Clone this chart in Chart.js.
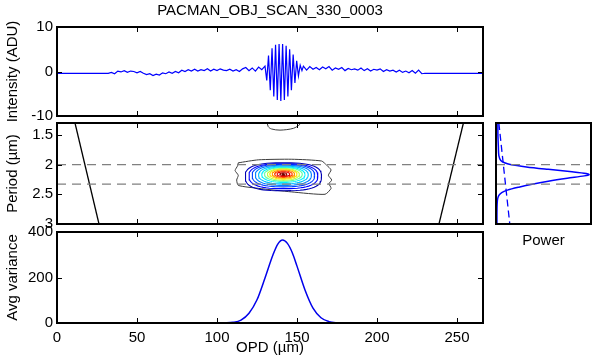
<!DOCTYPE html>
<html>
<head>
<meta charset="utf-8">
<script src="https://cdn.jsdelivr.net/npm/chart.js@4.4.0/dist/chart.umd.min.js"></script>
<style>
body { margin: 0; background: #fff; }
#wrap { position: relative; width: 600px; height: 363px; overflow: hidden; background: #fff; }
canvas { position: absolute; left: 0; top: 0; }
</style>
</head>
<body>
<div id="wrap">
<canvas id="intensity_chart" width="600" height="363"></canvas>
<canvas id="period_chart" width="600" height="363"></canvas>
<canvas id="variance_chart" width="600" height="363"></canvas>
<canvas id="power_chart" width="600" height="363"></canvas>
</div>
<script>
// ---- data ----
const opd_ticks = [0, 50, 100, 150, 200, 250];
const intensity_ticks = [-10, 0, 10];
const period_ticks = [1.5, 2, 2.5, 3];
const variance_ticks = [0, 200, 400];

// interferogram (OPD in um, intensity in ADU)
const intensity_opd = [0, 32, 34, 36, 38, 40, 42, 44, 46, 48, 50, 52, 54, 56, 58, 60, 62, 64, 66, 68,
    70, 72, 74, 76, 78, 80, 82, 84, 86, 88, 90, 92, 94, 96, 98, 100, 102, 104, 106, 108,
    110, 112, 114, 116, 118, 120, 122, 124, 126, 128,
    130.0, 131.1, 132.2, 133.3, 134.4, 135.5, 136.6, 137.7, 138.8, 139.9, 141.0,
    142.1, 143.2, 144.3, 145.4, 146.5, 147.6, 148.7, 149.8, 150.9, 152.0, 153.1,
    154, 156, 158, 160, 162, 164, 166, 168, 170, 172, 174, 176, 178, 180, 182, 184, 186, 188,
    190, 192, 194, 196, 198, 200, 202, 204, 206, 208, 210, 212, 214, 216, 218, 220, 222, 224,
    226, 228, 230, 266];
const intensity = [-0.4, -0.4, -0.2, -0.5, 0.1, -0.1, 0.2, -0.2, 0.1, 0.0, -0.3, 0.0, -0.4, -0.7, -0.5, -0.9, -0.6, -0.8, -0.3, -0.5,
    -0.1, -0.4, 0.0, -0.3, 0.3, 0.0, 0.4, 0.1, 0.5, 0.1, 0.4, 0.2, 0.6, 0.1, 0.5, 0.2, 0.6, 0.3, 0.2, 0.5,
    0.1, 0.4, 0.0, 0.6, 0.9, 0.2, 0.8, 0.1, 1.0, 0.4,
    1.2, -2.0, 3.6, -4.2, 5.2, -5.6, 6.0, -6.4, 6.2, -6.6, 6.2,
    -6.4, 5.8, -5.6, 5.0, -4.2, 3.8, -2.6, 2.4, -1.0, 1.4, 0.2,
    1.2, 0.3, 1.1, 0.5, 0.9, 0.4, 1.0, 0.6, 1.1, 0.3, 0.8, 0.5, 0.9, 0.2, 0.7, 0.4, 0.6, 0.3,
    0.8, 0.2, 0.6, 0.1, 0.5, 0.3, 0.6, 0.0, 0.4, 0.1, 0.3, -0.1, 0.3, -0.2, 0.1, -0.3, 0.2, -0.4,
    0.3, -0.5, -0.4, -0.4];

// average variance against OPD
const variance_opd = [0, 100, 105, 110, 115, 120, 125, 130, 135, 138, 141, 144, 147, 150, 155, 160, 165, 170, 175, 180, 266];
const variance = [0, 0, 0.5, 3, 13, 43, 102, 198, 300, 347, 365, 350, 310, 250, 145, 65, 23, 6, 1, 0, 0];

// power spectrum (period in um, normalised power)
const power_period = [1.30, 1.50, 1.70, 1.85, 1.93, 1.97, 2.00, 2.04, 2.08, 2.12, 2.15, 2.17, 2.19, 2.23, 2.28, 2.33, 2.38, 2.43, 2.47, 2.52, 2.60, 2.80, 3.00];
const power = [0.02, 0.02, 0.025, 0.03, 0.05, 0.09, 0.15, 0.32, 0.55, 0.80, 0.95, 0.98, 0.93, 0.75, 0.55, 0.38, 0.24, 0.12, 0.06, 0.03, 0.015, 0.01, 0.01];
const power_ref_period = [1.3, 3.0];
const power_ref = [0.03, 0.145];

// marked periods (dashed lines)
const band_periods = [2.0, 2.33];

// OPD limits (solid black lines) at the top and bottom of the period axis
const limit_period = [1.3, 3.0];
const limit_left_opd = [11.25, 26.25];
const limit_right_opd = [254, 238.75];

// contours: outer grey level traced, inner levels as rings
const outer_contour_opd = [113.3, 125.8, 146.7, 165.4, 168.5, 171.3, 169.6, 171.7, 170.0, 171.3, 167.5, 146.7, 125.8, 113.3, 112.3, 113.3, 111.3, 112.9, 113.3];
const outer_contour_period = [1.97, 1.92, 1.91, 1.94, 2.01, 2.09, 2.18, 2.26, 2.32, 2.40, 2.50, 2.46, 2.40, 2.35, 2.26, 2.18, 2.10, 2.02, 1.97];
const top_contour_opd = [131, 132, 134, 139.4, 147.7, 151.9, 153];
const top_contour_period = [1.26, 1.36, 1.40, 1.42, 1.39, 1.32, 1.25];

const ring_colors = ["rgb(0,0,180)", "rgb(0,0,255)", "rgb(0,64,255)", "rgb(0,128,255)", "rgb(0,192,255)", "rgb(0,240,255)",
    "rgb(96,255,160)", "rgb(192,255,64)", "rgb(255,224,0)", "rgb(255,150,0)", "rgb(255,64,0)", "rgb(230,0,0)", "rgb(160,0,0)", "rgb(90,0,0)"];
const ring_half_opd = [23.8, 21.5, 19.5, 17.5, 15.5, 13.5, 11.8, 10.0, 8.5, 7.0, 5.5, 4.0, 2.2, 0.6];
const ring_half_period = [0.235, 0.21, 0.19, 0.17, 0.15, 0.13, 0.115, 0.10, 0.085, 0.07, 0.055, 0.04, 0.022, 0.01];
const ring_center_period = [2.205, 2.195, 2.185, 2.18, 2.175, 2.17, 2.165, 2.165, 2.16, 2.16, 2.16, 2.16, 2.16, 2.16];
const ring_squareness = [2.8, 2.6, 2.5, 2.4, 2.3, 2.2, 2.1, 2.0, 2.0, 2.0, 2.0, 2.0, 2.0, 2.0];
const ring_center_opd = 141.5;

// ---- helpers ----
const to_points = (xs, ys) => xs.map((x, i) => ({ x: x, y: ys[i] }));

function ring_points(i)
{
    const pts = [];
    const e = 2 / ring_squareness[i];
    for (let k = 0; k <= 60; k++)
    {
        const t = k / 60 * 2 * Math.PI;
        const c = Math.cos(t), s = Math.sin(t);
        pts.push({
            x: ring_center_opd + ring_half_opd[i] * Math.sign(c) * Math.pow(Math.abs(c), e),
            y: ring_center_period[i] + ring_half_period[i] * Math.sign(s) * Math.pow(Math.abs(s), e)
        });
    }
    return pts;
}

function fixed_size(size)
{
    return function (scale)
    {
        if (scale.isHorizontal()) scale.height = size;
        else scale.width = size;
        scale.paddingLeft = 0;
        scale.paddingRight = 0;
        scale.paddingTop = 0;
        scale.paddingBottom = 0;
    };
}

const set_ticks = (values) => (scale) => { scale.ticks = values.map(v => ({ value: v })); };
const plain_label = (v) => String(v);

// box with inward ticks on all four sides, like the original figure
const matlab_box = {
    id: "matlab_box",
    afterDatasetsDraw(chart, args, opts)
    {
        const { ctx, chartArea: a, scales } = chart;
        ctx.save();
        ctx.strokeStyle = "#000";
        if (opts.ticks !== false)
        {
            ctx.lineWidth = 1;
            ctx.beginPath();
            scales.x.ticks.forEach(t => {
                const px = Math.round(scales.x.getPixelForValue(t.value)) + 0.5;
                ctx.moveTo(px, a.top); ctx.lineTo(px, a.top + 5);
                ctx.moveTo(px, a.bottom); ctx.lineTo(px, a.bottom - 5);
            });
            scales.y.ticks.forEach(t => {
                const py = Math.round(scales.y.getPixelForValue(t.value)) + 0.5;
                ctx.moveTo(a.left, py); ctx.lineTo(a.left + 5, py);
                ctx.moveTo(a.right, py); ctx.lineTo(a.right - 5, py);
            });
            ctx.stroke();
        }
        ctx.lineWidth = 2;
        ctx.strokeRect(a.left, a.top, a.right - a.left, a.bottom - a.top);
        if (opts.title)
        {
            ctx.fillStyle = "#000";
            ctx.font = Chart.helpers.toFont(Chart.defaults.font).string;
            ctx.textAlign = "center";
            ctx.textBaseline = "middle";
            ctx.fillText(opts.title, (a.left + a.right) / 2, 11);
        }
        ctx.restore();
    }
};
Chart.register(matlab_box);

Chart.defaults.font.family = "'Liberation Sans', Arial, sans-serif";
Chart.defaults.font.size = 15;
Chart.defaults.color = "#000";
Chart.defaults.animation = false;
Chart.defaults.responsive = false;
Chart.defaults.devicePixelRatio = 1;
Chart.defaults.plugins.legend.display = false;
Chart.defaults.plugins.tooltip.enabled = false;
Chart.defaults.elements.point.radius = 0;

const no_lines = { grid: { display: false, drawTicks: false }, border: { display: false } };

// ---- top panel: interferogram ----
const intensity_chart = new Chart("intensity_chart",
{
    type: "scatter",
    data:
    {
        datasets:
        [
            {
                data: to_points(intensity_opd, intensity),
                showLine: true,
                borderColor: "rgb(0,0,255)",
                borderWidth: 1.2
            }
        ]
    },
    options:
    {
        layout: { padding: { left: 0, right: 117, top: 27, bottom: 238 } },
        plugins: { matlab_box: { title: "PACMAN_OBJ_SCAN_330_0003" } },
        scales:
        {
            x:
            {
                type: "linear", min: 0, max: 266.25, ...no_lines,
                ticks: { display: false },
                afterBuildTicks: set_ticks(opd_ticks),
                afterFit: fixed_size(9)
            },
            y:
            {
                type: "linear", min: -10, max: 10, ...no_lines,
                ticks: { padding: 4, callback: plain_label },
                title: { display: true, text: "Intensity (ADU)", padding: { top: 4, bottom: 0 } },
                afterBuildTicks: set_ticks(intensity_ticks),
                afterFit: fixed_size(57)
            }
        }
    }
});

// ---- middle panel: period map ----
const period_datasets = [];
band_periods.forEach(p => period_datasets.push({
    data: to_points([0, 266.25], [p, p]),
    showLine: true, borderColor: "rgb(128,128,128)", borderWidth: 1.2, borderDash: [9, 6]
}));
period_datasets.push({
    data: to_points(limit_left_opd, limit_period),
    showLine: true, borderColor: "#000", borderWidth: 1.3
});
period_datasets.push({
    data: to_points(limit_right_opd, limit_period),
    showLine: true, borderColor: "#000", borderWidth: 1.3
});
ring_colors.forEach((c, i) => period_datasets.push({
    data: ring_points(i), showLine: true, borderColor: c, borderWidth: 1.1
}));
period_datasets.push({
    data: to_points(outer_contour_opd, outer_contour_period),
    showLine: true, borderColor: "rgb(60,60,60)", borderWidth: 1, tension: 0.2
});
period_datasets.push({
    data: to_points(top_contour_opd, top_contour_period),
    showLine: true, borderColor: "rgb(60,60,60)", borderWidth: 1, tension: 0.3
});

const period_chart = new Chart("period_chart",
{
    type: "scatter",
    data: { datasets: period_datasets },
    options:
    {
        layout: { padding: { left: 0, right: 117, top: 123, bottom: 135 } },
        scales:
        {
            x:
            {
                type: "linear", min: 0, max: 266.25, ...no_lines,
                ticks: { display: false },
                afterBuildTicks: set_ticks(opd_ticks),
                afterFit: fixed_size(4)
            },
            y:
            {
                type: "linear", min: 1.3, max: 3, reverse: true, ...no_lines,
                ticks: { padding: 4, callback: plain_label },
                title: { display: true, text: "Period (\u00b5m)", padding: { top: 4, bottom: 0 } },
                afterBuildTicks: set_ticks(period_ticks),
                afterFit: fixed_size(57)
            }
        }
    }
});

// ---- bottom panel: average variance ----
const variance_chart = new Chart("variance_chart",
{
    type: "scatter",
    data:
    {
        datasets:
        [
            {
                data: to_points(variance_opd, variance),
                showLine: true,
                cubicInterpolationMode: "monotone",
                borderColor: "rgb(0,0,235)",
                borderWidth: 1.5
            }
        ]
    },
    options:
    {
        layout: { padding: { left: 0, right: 117, top: 232, bottom: 0 } },
        scales:
        {
            x:
            {
                type: "linear", min: 0, max: 266.25, ...no_lines,
                ticks: { padding: 6, callback: plain_label },
                title: { display: true, text: "OPD (\u00b5m)", padding: { top: 0, bottom: 6 } },
                afterBuildTicks: set_ticks(opd_ticks),
                afterFit: fixed_size(40)
            },
            y:
            {
                type: "linear", min: 0, max: 400, ...no_lines,
                ticks: { padding: 4, callback: plain_label },
                title: { display: true, text: "Avg variance", padding: { top: 4, bottom: 0 } },
                afterBuildTicks: set_ticks(variance_ticks),
                afterFit: fixed_size(57)
            }
        }
    }
});

// ---- side panel: power spectrum ----
const power_chart = new Chart("power_chart",
{
    type: "scatter",
    data:
    {
        datasets:
        [
            {
                data: to_points([0, 1], [band_periods[0], band_periods[0]]),
                showLine: true, borderColor: "rgb(128,128,128)", borderWidth: 1.2, borderDash: [9, 6]
            },
            {
                data: to_points([0, 1], [band_periods[1], band_periods[1]]),
                showLine: true, borderColor: "rgb(128,128,128)", borderWidth: 1.2, borderDash: [9, 6]
            },
            {
                data: to_points(power_ref, power_ref_period),
                showLine: true, borderColor: "rgb(0,0,255)", borderWidth: 1.3, borderDash: [7, 4]
            },
            {
                data: to_points(power, power_period),
                showLine: true, tension: 0.3, borderColor: "rgb(0,0,255)", borderWidth: 1.5
            }
        ]
    },
    options:
    {
        layout: { padding: { left: 496, right: 9, top: 123, bottom: 105 } },
        plugins: { matlab_box: { ticks: false } },
        scales:
        {
            x:
            {
                type: "linear", min: 0, max: 1, ...no_lines,
                ticks: { display: false },
                title: { display: true, text: "Power", padding: { top: 0, bottom: 8 } },
                afterBuildTicks: set_ticks([]),
                afterFit: fixed_size(34)
            },
            y:
            {
                type: "linear", min: 1.3, max: 3, reverse: true, display: false
            }
        }
    }
});
</script>
</body>
</html>
